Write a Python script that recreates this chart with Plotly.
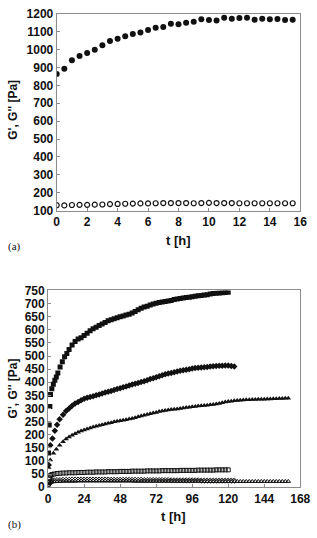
import plotly.graph_objects as go

# ---------------- Panel (a) ----------------
t_a = [0, 0.5, 1, 1.5, 2, 2.5, 3, 3.5, 4, 4.5, 5, 5.5, 6, 6.5, 7, 7.5,
       8, 8.5, 9, 9.5, 10, 10.5, 11, 11.5, 12, 12.5, 13, 13.5, 14, 14.5, 15, 15.5]
Gp_a = [863, 893, 940, 964, 981, 999, 1024, 1048, 1061, 1074, 1087, 1096, 1109, 1122, 1126, 1144,
        1141, 1150, 1156, 1169, 1165, 1163, 1178, 1172, 1176, 1178, 1167, 1172, 1169, 1171, 1165, 1167]
Gpp_a = [130, 129, 131, 132, 132, 133, 134, 136, 137, 138, 139, 140, 140, 141, 142, 142,
         142, 142, 141, 142, 143, 142, 142, 142, 141, 141, 141, 141, 141, 141, 141, 141]

# ---------------- Panel (b) ----------------
t_sq = [0.3, 0.8, 1.2, 1.6, 2.5, 3.5, 4.5, 5.5, 6.5, 8, 9.5, 11, 12.5, 14, 16, 18, 20, 22, 24, 26,
        28, 30, 32, 34, 36, 38, 40, 42, 44, 46, 48, 50, 52, 54, 56, 58, 60, 62, 64, 66, 68, 70,
        72, 74, 76, 78, 80, 82, 84, 86, 88, 90, 92, 94, 96, 98, 100, 102, 104, 106, 108, 110,
        112, 114, 116, 118, 120]
Gp_sq = [130, 237, 308, 353, 375, 392, 408, 420, 435, 458, 478, 497, 510, 525, 542, 555, 565, 570, 578, 587,
         596, 604, 610, 616, 622, 628, 634, 638, 642, 646, 650, 653, 656, 659, 664, 670, 676, 682, 687, 690,
         694, 698, 701, 704, 706, 708, 710, 712, 715, 717, 719, 721, 723, 724, 726, 728, 730, 731, 733, 734,
         736, 738, 739, 740, 741, 742, 743]

t_di = [0.4, 1.5, 2.9, 4.5, 6, 7.7, 10, 12, 14, 16, 18, 20, 22, 24, 26, 28, 30, 32, 34, 36, 38, 40,
        42, 44, 46, 48, 50, 52, 54, 56, 58, 60, 62, 64, 66, 68, 70, 72, 74, 76, 78, 80, 82, 84,
        86, 88, 90, 92, 94, 96, 98, 100, 102, 104, 106, 108, 110, 112, 114, 116, 118, 120, 122, 124]
Gp_di = [85, 160, 186, 215, 238, 259, 276, 290, 300, 310, 319, 325, 331, 337, 341, 344, 347, 350, 353, 357,
         361, 364, 367, 370, 374, 377, 381, 384, 388, 391, 394, 397, 401, 404, 408, 412, 415, 419, 423, 427,
         430, 433, 435, 438, 441, 444, 446, 448, 450, 452, 454, 455, 456, 457, 458, 460, 461, 462, 463, 463,
         464, 464, 462, 460]

t_tr = [0.4, 1.5, 3.6, 5.5, 7.7, 10, 12, 14, 16, 18, 20, 22, 24, 26, 28, 30, 32, 34, 36, 38, 40,
        42, 44, 46, 48, 50, 52, 54, 56, 58, 60, 62, 64, 66, 68, 70, 72, 74, 76, 78, 80, 82, 84,
        86, 88, 90, 92, 94, 96, 98, 100, 102, 104, 106, 108, 110, 112, 114, 116, 118, 120, 122, 124,
        126, 128, 130, 132, 134, 136, 138, 140, 142, 144, 146, 148, 150, 152, 154, 156, 158, 160]
Gp_tr = [75, 104, 129, 145, 160, 173, 184, 191, 198, 204, 209, 214, 218, 222, 226, 229, 232, 235, 238, 241,
         244, 246, 249, 251, 253, 255, 257, 260, 262, 265, 268, 271, 274, 277, 280, 283, 285, 288, 290, 292,
         294, 296, 297, 298, 300, 302, 304, 305, 307, 308, 309, 310, 311, 312, 314, 315, 317, 319, 322, 325,
         327, 328, 329, 330, 331, 332, 333, 333, 334, 334, 335, 335, 335, 336, 336, 337, 337, 338, 338, 339,
         339]

t_osq = [0.3, 0.8, 1.5, 2.5, 4, 6, 8, 10, 12, 14, 16, 18, 20, 22, 24, 26, 28, 30, 32, 34, 36, 38, 40,
         42, 44, 46, 48, 50, 52, 54, 56, 58, 60, 62, 64, 66, 68, 70, 72, 74, 76, 78, 80, 82, 84,
         86, 88, 90, 92, 94, 96, 98, 100, 102, 104, 106, 108, 110, 112, 114, 116, 118, 120]
Gpp_sq = [20, 35, 44, 48, 50, 52, 53, 54, 54, 55, 55, 55, 56, 56, 56, 57, 57, 57, 58, 58, 58, 58, 59,
          59, 59, 59, 60, 60, 60, 60, 61, 61, 61, 61, 61, 62, 62, 62, 62, 62, 63, 63, 63, 63, 63,
          63, 64, 64, 64, 64, 64, 64, 65, 65, 65, 65, 65, 65, 66, 66, 66, 66, 66]

t_odi = [0.3, 0.8, 1.5, 2.5, 4, 6, 8, 10, 12, 14, 16, 18, 20, 22, 24, 26, 28, 30, 32, 34, 36, 38, 40,
         42, 44, 46, 48, 50, 52, 54, 56, 58, 60, 62, 64, 66, 68, 70, 72, 74, 76, 78, 80, 82, 84,
         86, 88, 90, 92, 94, 96, 98, 100, 102, 104, 106, 108, 110, 112, 114, 116, 118, 120, 122, 124]
Gpp_di = [10, 18, 22, 25, 26, 27, 27, 28, 28, 28, 29, 29, 29, 29, 29, 29, 29, 29, 29, 29, 29, 29, 29,
          28, 28, 28, 28, 28, 28, 28, 28, 28, 28, 28, 27, 27, 27, 27, 27, 27, 27, 27, 27, 26, 26,
          26, 26, 26, 26, 26, 26, 26, 26, 25, 25, 25, 25, 25, 25, 25, 25, 25, 25, 25, 25]

t_otr = [0.3, 0.8, 1.5, 2.5, 4, 6, 8, 10, 12, 14, 16, 18, 20, 22, 24, 26, 28, 30, 32, 34, 36, 38, 40,
         42, 44, 46, 48, 50, 52, 54, 56, 58, 60, 62, 64, 66, 68, 70, 72, 74, 76, 78, 80, 82, 84,
         86, 88, 90, 92, 94, 96, 98, 100, 102, 104, 106, 108, 110, 112, 114, 116, 118, 120, 122, 124,
         126, 128, 130, 132, 134, 136, 138, 140, 142, 144, 146, 148, 150, 152, 154, 156, 158, 160]
Gpp_tr = [8, 14, 18, 20, 21, 22, 22, 23, 23, 23, 23, 23, 24, 24, 24, 24, 24, 24, 24, 24, 24, 24, 24,
          24, 24, 24, 24, 24, 24, 24, 24, 23, 23, 23, 23, 23, 23, 23, 23, 23, 23, 23, 23, 23, 23,
          23, 23, 23, 23, 23, 23, 23, 23, 23, 22, 22, 22, 22, 22, 22, 22, 22, 22, 22, 22,
          22, 22, 22, 22, 22, 22, 22, 22, 22, 22, 22, 22, 22, 22, 22, 22, 22, 22]

xticks_a = [0, 2, 4, 6, 8, 10, 12, 14, 16]
xticks_b = [0, 24, 48, 72, 96, 120, 144, 168]

W, H = 317, 538
def px(x):
    return x / W
def py(y):
    return 1 - y / H

FONT = "Liberation Sans, Arial, sans-serif"
INK = "#111111"
FRAME = "#8c8c8c"

fig = go.Figure()

fig.add_trace(go.Scatter(x=t_a, y=Gpp_a, mode="markers", xaxis="x", yaxis="y",
                         marker=dict(symbol="circle-open", size=5, color=INK, line=dict(width=1.2, color=INK))))
fig.add_trace(go.Scatter(x=t_a, y=Gp_a, mode="markers", xaxis="x", yaxis="y",
                         marker=dict(symbol="circle", size=6, color=INK)))

def mk(sym, size, lw=1.0):
    return dict(symbol=sym, size=size, color=INK, line=dict(width=lw, color=INK))

fig.add_trace(go.Scatter(x=t_otr, y=Gpp_tr, mode="markers", xaxis="x2", yaxis="y2", marker=mk("triangle-up-open", 4)))
fig.add_trace(go.Scatter(x=t_odi, y=Gpp_di, mode="markers", xaxis="x2", yaxis="y2", marker=mk("diamond-open", 4)))
fig.add_trace(go.Scatter(x=t_osq, y=Gpp_sq, mode="markers", xaxis="x2", yaxis="y2", marker=mk("square-open", 4)))
fig.add_trace(go.Scatter(x=t_tr, y=Gp_tr, mode="markers", xaxis="x2", yaxis="y2", marker=mk("triangle-up", 5, 0)))
fig.add_trace(go.Scatter(x=t_di, y=Gp_di, mode="markers", xaxis="x2", yaxis="y2", marker=mk("diamond", 5, 0)))
fig.add_trace(go.Scatter(x=t_sq, y=Gp_sq, mode="markers", xaxis="x2", yaxis="y2", marker=mk("square", 5, 0)))

tickfont = dict(family=FONT, size=12, color=INK, weight="bold")
common = dict(showline=True, linecolor=FRAME, linewidth=1, mirror=True, showgrid=False, zeroline=False,
              ticks="inside", ticklen=3, tickcolor=FRAME, tickfont=tickfont)

fig.update_layout(
    width=W, height=H, margin=dict(l=0, r=0, t=0, b=0),
    paper_bgcolor="white", plot_bgcolor="white", showlegend=False,
    xaxis=dict(domain=[px(56), px(310)], range=[0, 16], tickvals=xticks_a, anchor="y", **common),
    yaxis=dict(domain=[py(209), py(7)], range=[100, 1200], dtick=100, anchor="x", **common),
    xaxis2=dict(domain=[px(47), px(310)], range=[0, 168], tickvals=xticks_b, anchor="y2", **common),
    yaxis2=dict(domain=[py(493), py(291)], range=[0, 750], dtick=50, anchor="x2", **common),
)

ann = []
titlefont = dict(family=FONT, size=13, color=INK, weight="bold")
ylabfont = dict(family=FONT, size=12, color=INK, weight="bold")
ann.append(dict(text="t [h]", x=px(183), y=py(240), xref="paper", yref="paper", showarrow=False,
                font=titlefont, xanchor="center", yanchor="middle"))
ann.append(dict(text="G', G'' [Pa]", x=px(11), y=py(106), xref="paper", yref="paper", showarrow=False,
                font=ylabfont, textangle=-90, xanchor="center", yanchor="middle"))
ann.append(dict(text="(a)", x=px(3), y=py(246), xref="paper", yref="paper", showarrow=False,
                font=dict(family="Liberation Serif, Times New Roman, serif", size=11, color=INK),
                xanchor="left", yanchor="middle"))
ann.append(dict(text="t [h]", x=px(178), y=py(523), xref="paper", yref="paper", showarrow=False,
                font=titlefont, xanchor="center", yanchor="middle"))
ann.append(dict(text="G', G'' [Pa]", x=px(10), y=py(392), xref="paper", yref="paper", showarrow=False,
                font=ylabfont, textangle=-90, xanchor="center", yanchor="middle"))
ann.append(dict(text="(b)", x=px(3), y=py(531), xref="paper", yref="paper", showarrow=False,
                font=dict(family="Liberation Serif, Times New Roman, serif", size=11, color=INK),
                xanchor="left", yanchor="middle"))
fig.update_layout(annotations=ann)

fig.write_html("out.html")
